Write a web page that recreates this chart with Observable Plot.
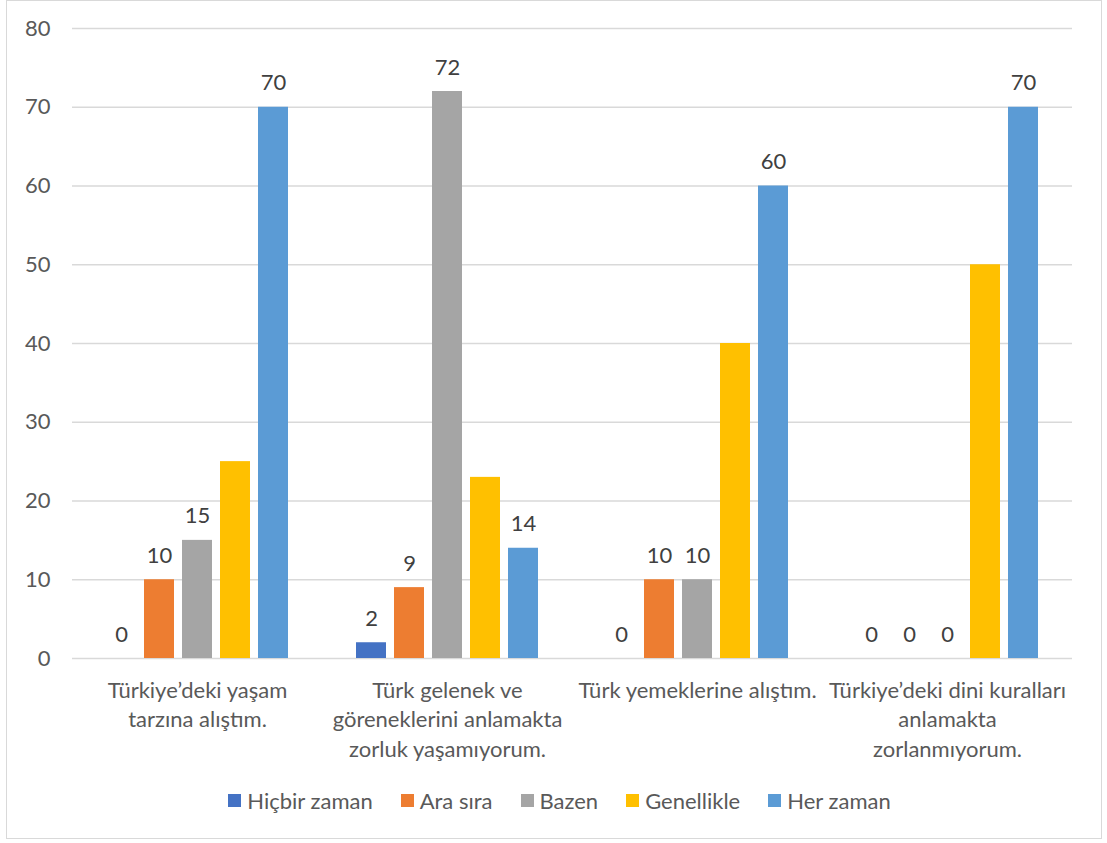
<!DOCTYPE html>
<html>
<head>
<meta charset="utf-8">
<script src="https://cdn.jsdelivr.net/npm/d3@7"></script>
<script src="https://cdn.jsdelivr.net/npm/@observablehq/plot@0.6"></script>
<style>
  body { margin: 0; background: #fff; font-family: Lato, "Open Sans", sans-serif; }
  #frame { position: absolute; left: 6px; top: 0; width: 1096px; height: 839px; border: 1.5px solid #d9d9d9; box-sizing: border-box; }
  #chart { position: absolute; left: 0; top: 0; }
  #legend { position: absolute; left: 6px; top: 787px; width: 1107px; display: flex; justify-content: center; gap: 28px; font-size: 22px; color: #595959; }
  #legend .item { display: flex; align-items: center; gap: 6px; }
  #legend .swatch { width: 13px; height: 13px; }
</style>
</head>
<body>
<div id="frame"></div>
<div id="chart"></div>
<div id="legend"></div>
<script>
// Survey statements (category axis) and answer options (series)
const statements = [
  "Türkiye’deki yaşam\ntarzına alıştım.",
  "Türk gelenek ve\ngöreneklerini anlamakta\nzorluk yaşamıyorum.",
  "Türk yemeklerine alıştım.",
  "Türkiye’deki dini kuralları\nanlamakta\nzorlanmıyorum."
];
const responses = ["Hiçbir zaman", "Ara sıra", "Bazen", "Genellikle", "Her zaman"];
const colors = ["#4472C4", "#ED7D31", "#A5A5A5", "#FFC000", "#5B9BD5"];

// Values per answer option, one per statement
const hicbirZaman = [0, 2, 0, 0];
const araSira = [10, 9, 10, 0];
const bazen = [15, 72, 10, 0];
const genellikle = [25, 23, 40, 50];
const herZaman = [70, 14, 60, 70];

// Series that carry value labels above their bars
const labelledResponses = ["Hiçbir zaman", "Ara sıra", "Bazen", "Her zaman"];

const yTicks = [0, 10, 20, 30, 40, 50, 60, 70, 80];

const series = [hicbirZaman, araSira, bazen, genellikle, herZaman];
const data = [];
statements.forEach((s, i) => {
  responses.forEach((r, j) => {
    data.push({ statement: s, response: r, value: series[j][i] });
  });
});
const labelled = data.filter(d => labelledResponses.includes(d.response));

const chart = Plot.plot({
  width: 1107,
  height: 780,
  marginLeft: 70,
  marginRight: 34,
  marginTop: 28,
  marginBottom: 122,
  style: { fontFamily: "Lato, 'Open Sans', sans-serif", background: "transparent" },
  fx: { domain: statements, padding: 0, label: null },
  x: { domain: responses, paddingInner: 0.22, paddingOuter: 0.865, axis: null },
  y: { domain: [0, 80], label: null },
  color: { domain: responses, range: colors },
  marks: [
    Plot.gridY(yTicks, { stroke: "#d9d9d9", strokeOpacity: 1, strokeWidth: 1.5 }),
    Plot.barY(data, { fx: "statement", x: "response", y: "value", fill: "response" }),
    Plot.text(labelled, {
      fx: "statement", x: "response", y: "value",
      text: d => String(d.value),
      lineAnchor: "bottom", dy: -17,
      fontSize: 22, fill: "#404040"
    }),
    Plot.axisY(yTicks, { tickSize: 0, tickPadding: 22, fontSize: 22, color: "#595959", label: null }),
    Plot.axisFx({ anchor: "bottom", tickSize: 0, tickPadding: 18, fontSize: 22, lineHeight: 1.35, color: "#595959", label: null })
  ]
});
document.getElementById("chart").appendChild(chart);

// Legend row under the plot
const legend = document.getElementById("legend");
responses.forEach((r, j) => {
  const item = document.createElement("div");
  item.className = "item";
  const sw = document.createElement("span");
  sw.className = "swatch";
  sw.style.background = colors[j];
  const label = document.createElement("span");
  label.textContent = r;
  item.appendChild(sw);
  item.appendChild(label);
  legend.appendChild(item);
});
</script>
</body>
</html>
